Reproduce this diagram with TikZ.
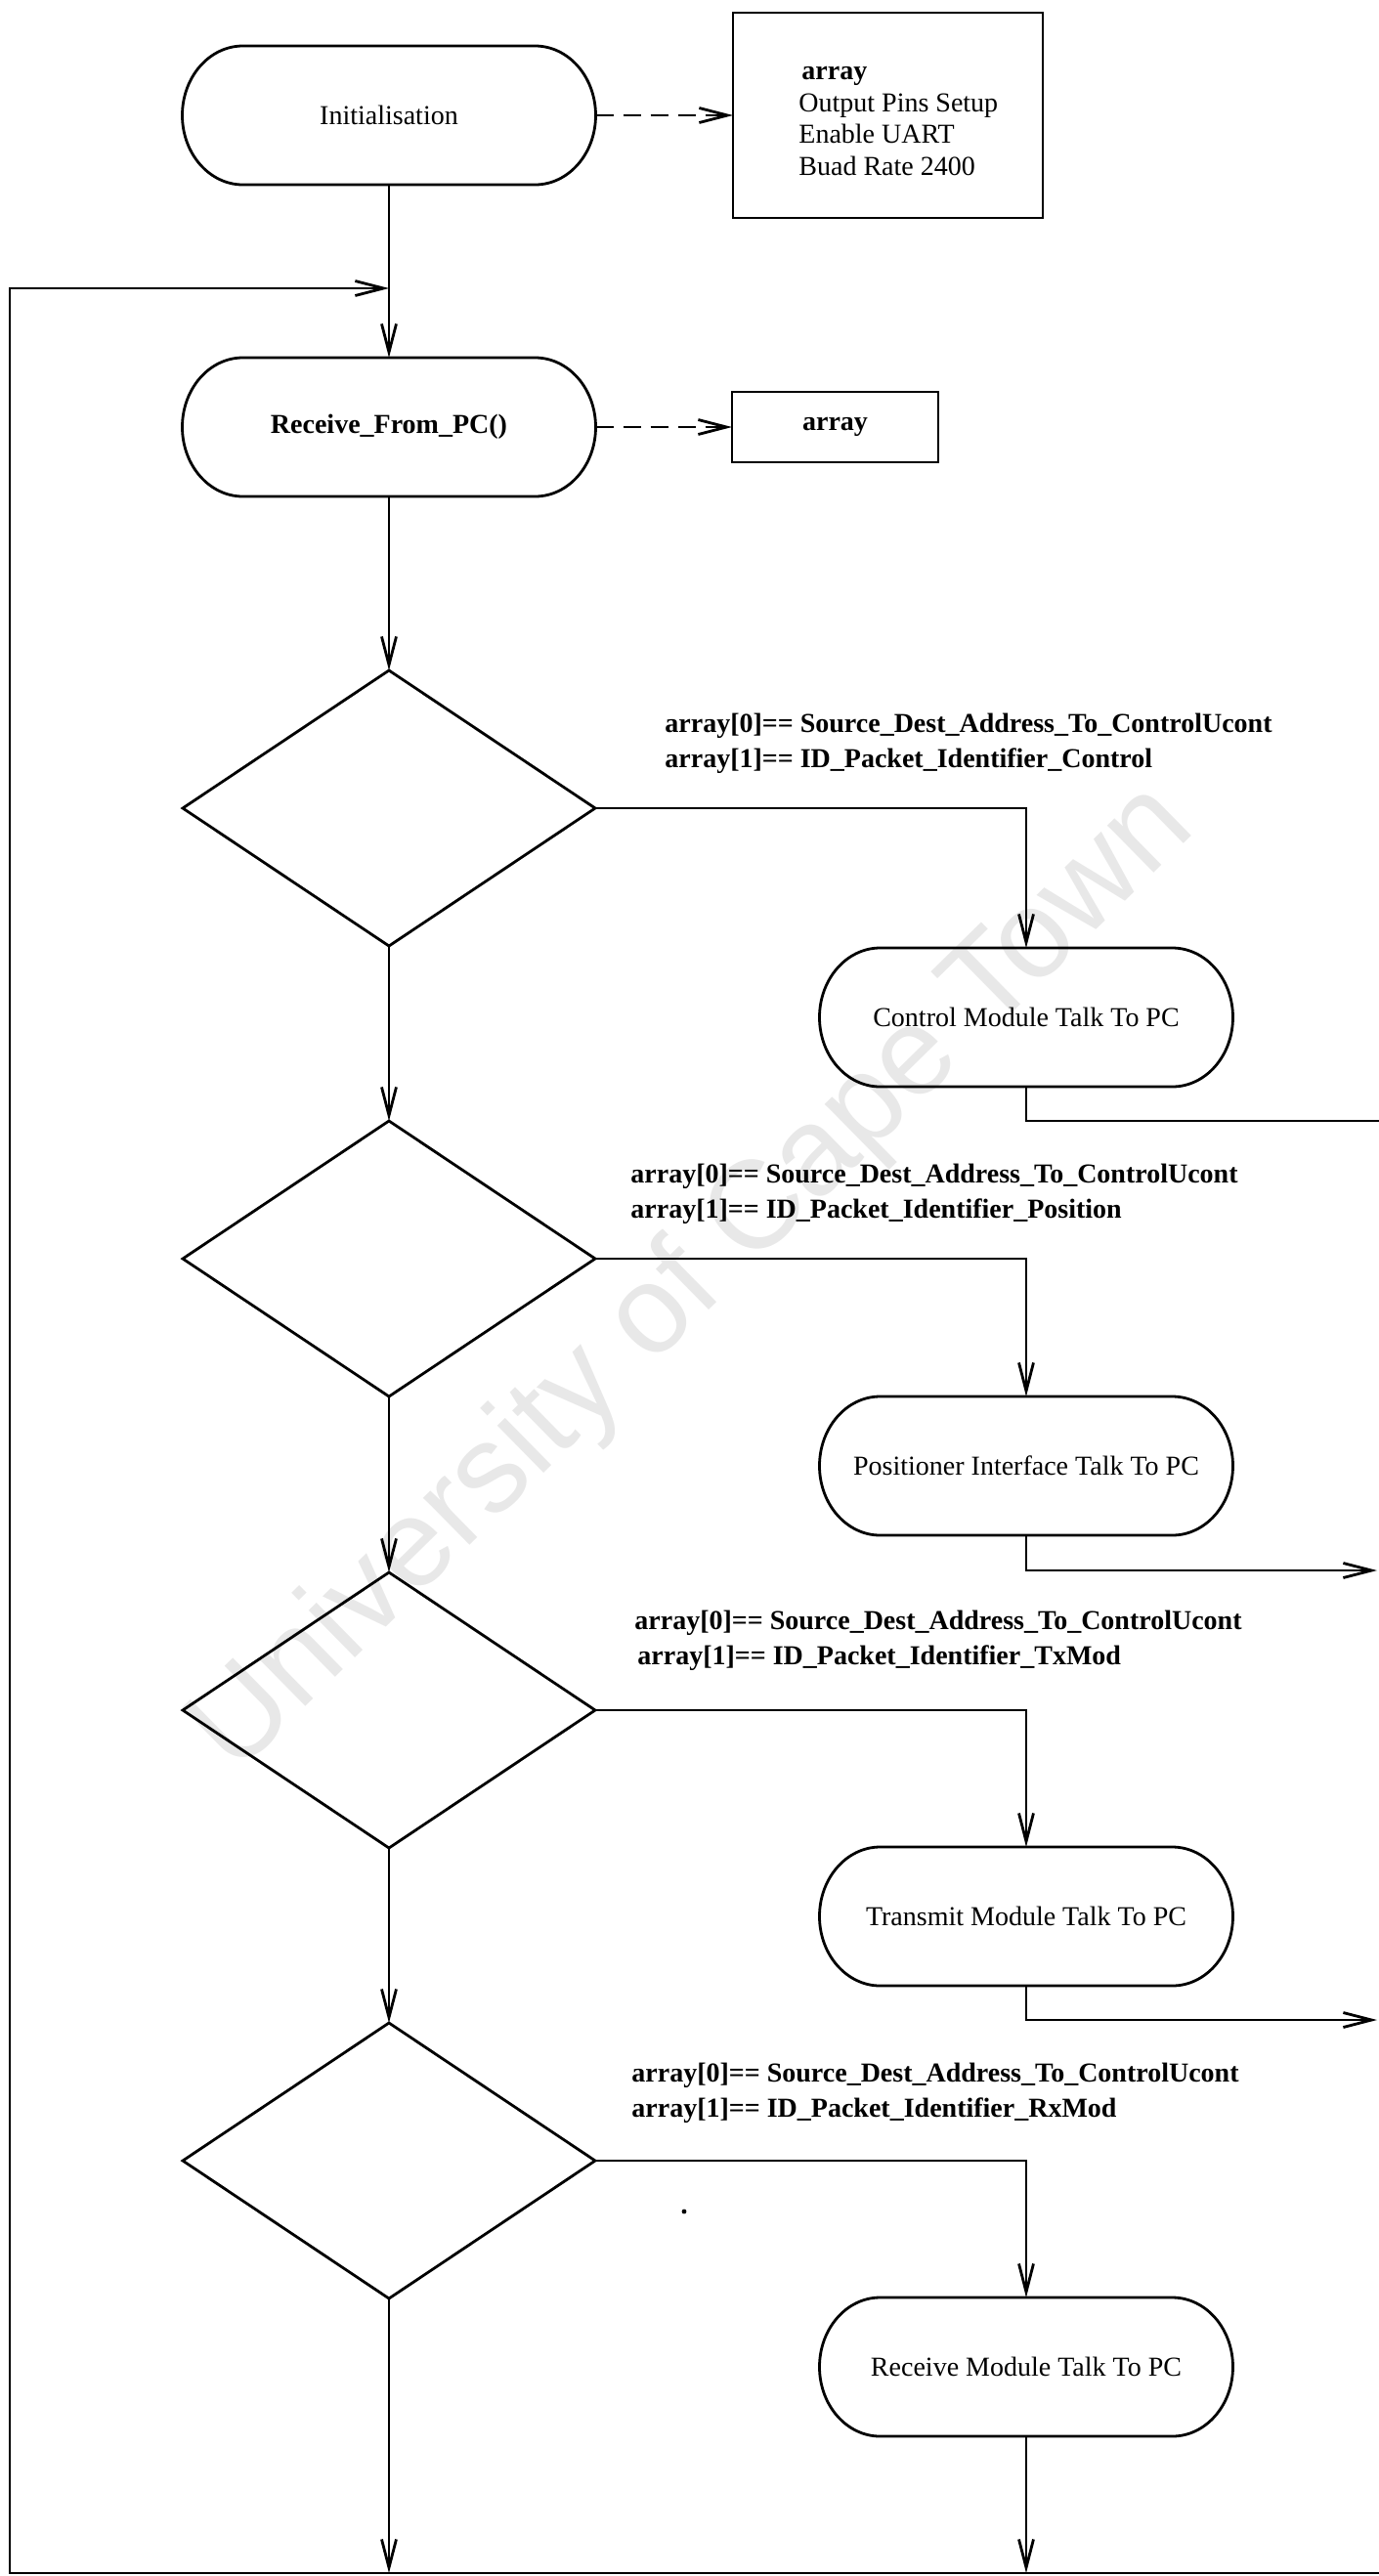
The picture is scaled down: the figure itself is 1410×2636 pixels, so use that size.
\documentclass[tikz,border=0pt]{standalone}
\usepackage{fontspec}
\setmainfont{Liberation Serif}
\newfontfamily\wmfont{Liberation Sans}
\usetikzlibrary{arrows.meta,shapes.geometric}

% text size used throughout the chart
\newcommand\chartfont{\fontsize{14pt}{16.3pt}\selectfont}

% outline of a terminal/process node: flat top and bottom, elliptic ends
\newcommand\stadiumoutline[1]{%
  \draw[plain] ([xshift=31pt]#1.north west) -- ([xshift=-31pt]#1.north east)
    arc[start angle=90, end angle=-90, x radius=31pt, y radius=35.5pt]
    -- ([xshift=31pt]#1.south west)
    arc[start angle=270, end angle=90, x radius=31pt, y radius=35.5pt] -- cycle;}

\tikzset{
  plain/.style={line width=1.4pt, line join=miter},
  flow/.style={plain, -{Straight Barb[length=14.5pt,width=7.5pt,line width=1.4pt]}},
  dashedflow/.style={flow, dash pattern=on 9pt off 5pt},
  stadium/.style={rectangle, minimum width=211.5pt, minimum height=71pt,
    inner sep=0pt, outer sep=0pt, font=\chartfont},
  decision/.style={diamond, draw, line width=1.4pt, minimum width=211pt,
    minimum height=141pt, inner sep=0pt, outer sep=0pt},
  databox/.style={rectangle, draw, line width=1.4pt, inner sep=0pt, outer sep=0pt,
    font=\chartfont},
  cond/.style={anchor=west, align=left, inner sep=0pt,
    font=\fontsize{14pt}{18pt}\selectfont\bfseries},
  mark text/.style={text=black!9, font=\wmfont\fontsize{64pt}{64pt}\selectfont,
    inner sep=0pt}
}

\begin{document}
\begin{tikzpicture}[x=0.5pt, y=-0.5pt]
\useasboundingbox (0,0) rectangle (1410,2636);

% background stamp
\node[mark text, rotate=44.5] (stamp) at (710,1310) {University of Cape Town};

% start-up and receive stage
\node[stadium] (init) at (398,118) {Initialisation};
\node[databox, minimum width=158.5pt, minimum height=105pt] (setup) at (908.5,118) {};
\node[anchor=west, align=left, inner sep=0pt, font=\chartfont] (setuptext) at (817,124)
  {\hspace*{1.5pt}\textbf{array}\\Output Pins Setup\\Enable UART\\Buad Rate 2400};
\node[stadium, font=\chartfont\bfseries] (recv) at (398,437) {Receive\_From\_PC()};
\node[databox, minimum width=105.5pt, minimum height=36pt, font=\chartfont\bfseries]
  (buf) at (854.5,437) {array};

% packet tests
\node[decision] (d1) at (398,827) {};
\node[decision] (d2) at (398,1288) {};
\node[decision] (d3) at (398,1750) {};
\node[decision] (d4) at (398,2211) {};

\node[cond] (c1) at (680,761)
  {array[0]== Source\_Dest\_Address\_To\_ControlUcont\\array[1]== ID\_Packet\_Identifier\_Control};
\node[cond] (c2) at (645,1221.5)
  {array[0]== Source\_Dest\_Address\_To\_ControlUcont\\array[1]== ID\_Packet\_Identifier\_Position};
\node[cond] (c3) at (649,1679)
  {array[0]== Source\_Dest\_Address\_To\_ControlUcont\\\hspace*{1.5pt}array[1]== ID\_Packet\_Identifier\_TxMod};
\node[cond] (c4) at (646,2141.5)
  {array[0]== Source\_Dest\_Address\_To\_ControlUcont\\array[1]== ID\_Packet\_Identifier\_RxMod};

% module handlers
\node[stadium] (ctrl) at (1050,1041) {Control Module Talk To PC};
\node[stadium] (posn) at (1050,1500) {Positioner Interface Talk To PC};
\node[stadium] (tx) at (1050,1961) {Transmit Module Talk To PC};
\node[stadium] (rx) at (1050,2422) {Receive Module Talk To PC};

\foreach \n in {init,recv,ctrl,posn,tx,rx} {\stadiumoutline{\n}}

% free line ends
\coordinate (join) at (398,295);
\coordinate (botL) at (10,2633);
\coordinate (botR) at (1416,2633);
\coordinate (out1) at (1416,1147);
\coordinate (out2) at (1409,1607);
\coordinate (out3) at (1409,2067);
\coordinate (speck) at (700,2263);

% connectors
\draw[flow] (init.south) -- (recv.north);
\draw[dashedflow] (init.east) -- (setup.west);
\draw[dashedflow] (recv.east) -- (buf.west);
\draw[flow] (recv.south) -- (d1.north);
\draw[flow] (d1.south) -- (d2.north);
\draw[flow] (d2.south) -- (d3.north);
\draw[flow] (d3.south) -- (d4.north);

\draw[flow] (d1.east) -| (ctrl.north);
\draw[flow] (d2.east) -| (posn.north);
\draw[flow] (d3.east) -| (tx.north);
\draw[flow] (d4.east) -| (rx.north);

\draw[plain] (ctrl.south) |- (out1);
\draw[flow] (posn.south) |- (out2);
\draw[flow] (tx.south) |- (out3);

\draw[flow] (rx.south) -- (rx.south |- botL);
\draw[flow] (d4.south) -- (d4.south |- botL);
\draw[flow] (botR) -- (botL) |- (join);

\fill (speck) circle[radius=1.2pt];
\end{tikzpicture}
\end{document}
